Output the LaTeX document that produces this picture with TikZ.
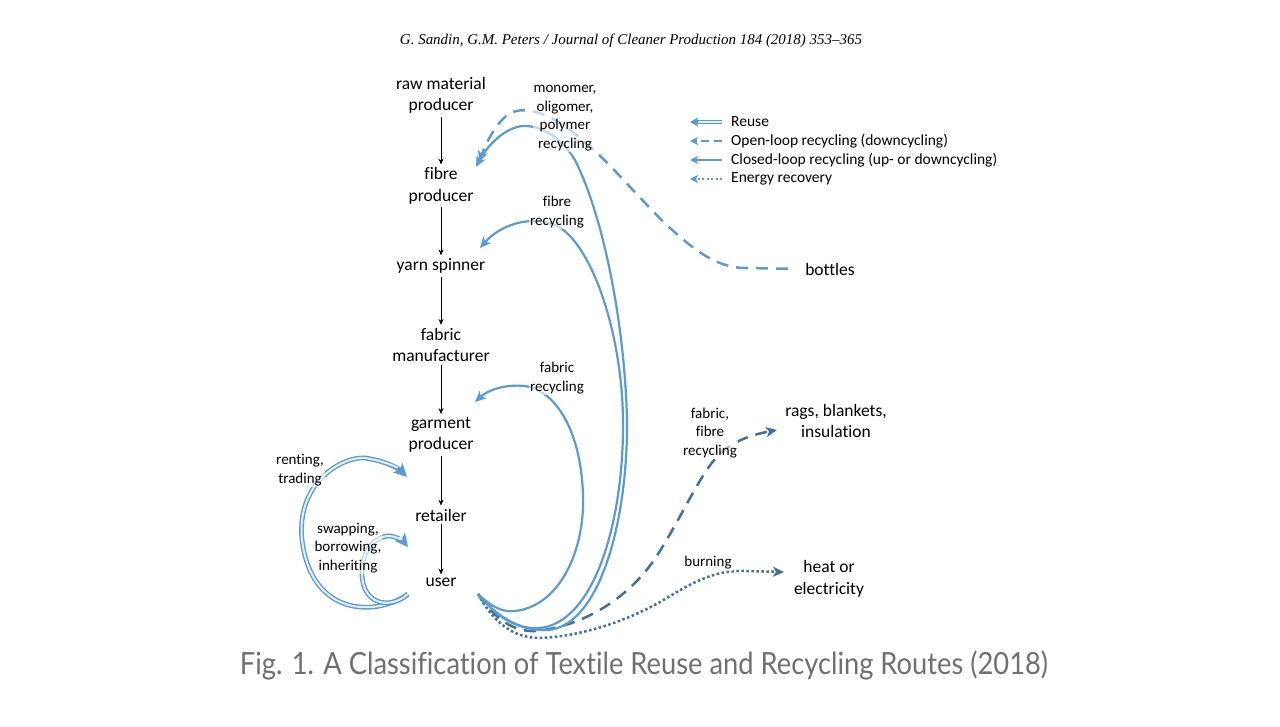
\documentclass[tikz,border=0pt]{standalone}
\usepackage{fontspec}
\setmainfont[Ligatures=NoCommon]{Carlito}
\newfontfamily\hdrfont{Liberation Serif}
\newfontfamily\capfont[Ligatures=NoCommon]{Lato}
\usetikzlibrary{arrows.meta}
\definecolor{lb}{HTML}{5B9BD5}
\definecolor{db}{HTML}{41719C}
\definecolor{pale}{HTML}{E6EFF8}
\definecolor{capgray}{HTML}{707070}
\begin{document}
\begin{tikzpicture}[x=1pt,y=-1pt,
  main/.style={font=\fontsize{17.5}{21.5}\selectfont, align=center, inner sep=1pt},
  small/.style={font=\fontsize{15}{18.7}\selectfont, align=center, inner sep=1pt, fill=white, fill opacity=0.6, text opacity=1},
  legtext/.style={font=\fontsize{15.5}{18}\selectfont, anchor=west, inner sep=0pt},
  flow/.style={-{Stealth[length=6pt,width=5pt]}, line width=0.8pt, shorten <=2pt, shorten >=2pt},
  closedloop/.style={draw=lb, line width=2.2pt, -{Stealth[length=11pt,width=10pt,inset=3pt]}},
  openloop/.style={draw=lb, line width=2.5pt, dash pattern=on 12pt off 8pt, -{Stealth[length=11pt,width=10pt,inset=3pt]}},
  openloopdark/.style={draw=db, line width=2.5pt, dash pattern=on 12pt off 8pt, -{Stealth[length=11pt,width=10pt,inset=3pt]}},
  energy/.style={draw=db, line width=2.5pt, dash pattern=on 2.5pt off 2.5pt, -{Stealth[length=11pt,width=10pt,inset=3pt]}},
  reuseout/.style={draw=lb, line width=4.8pt, -{Stealth[length=13pt,width=13pt,inset=3pt]}},
  reusein/.style={draw=pale, line width=2pt, shorten >=13pt},
]
\useasboundingbox[fill=white] (0,0) rectangle (1280,726);

% header and caption
\node (hdr) at (631,41) {\resizebox{462pt}{!}{\hdrfont\itshape G. Sandin, G.M. Peters / Journal of Cleaner Production 184 (2018) 353–365}};
\node[text=capgray] (cap) at (644,665) {\scalebox{1}[1.12]{\resizebox{808pt}{!}{\capfont Fig. 1. A Classification of Textile Reuse and Recycling Routes (2018)}}};

% chain
\node[main] (raw) at (441,95.5) {raw material\\producer};
\node[main] (fib) at (441,186) {fibre\\producer};
\node[main] (yarn) at (441,266) {yarn spinner};
\node[main] (fab) at (441,345) {fabric\\manufacturer};
\node[main] (gar) at (441,435) {garment\\producer};
\node[main] (ret) at (441,515) {retailer};
\node[main] (usr) at (441,582) {user};

\draw[flow] (raw) -- (fib);
\draw[flow] (fib) -- (yarn);
\draw[flow] (yarn) -- (fab);
\draw[flow] (fab) -- (gar);
\draw[flow] (gar) -- (ret);
\draw[flow] (ret) -- (usr);

% right hand targets
\node[main] (bot) at (830,269) {bottles};
\node[main] (rags) at (836,421) {rags, blankets,\\insulation};
\node[main] (heat) at (829,579) {heat or\\electricity};

% coordinates
\coordinate (uS) at (478,594);
\coordinate (uW) at (408,594);
\coordinate (tFib) at (476,167);
\coordinate (tFibD) at (479,162);
\coordinate (tYarn) at (480,248);
\coordinate (tGar) at (475,402);
\coordinate (tRent) at (407,477);
\coordinate (tSwap) at (408,547);
\coordinate (tRags) at (777,430);
\coordinate (tHeat) at (784,572);

% energy recovery
\draw[energy] (uS) .. controls (495,625) and (515,638) .. (540,638)
  .. controls (590,636) and (640,615) .. (670,596)
  .. controls (700,578) and (720,570) .. (745,571) -- (tHeat);
% open loop dark to rags
\draw[openloopdark] (uS) .. controls (495,620) and (515,632) .. (535,631)
  .. controls (580,627) and (620,602) .. (645,572)
  .. controls (670,542) and (695,482) .. (715,459)
  .. controls (730,442) and (750,435) .. (tRags);

% closed loops
\draw[closedloop] (uS) .. controls (495,615) and (520,632) .. (548,630)
  .. controls (600,626) and (628,520) .. (627,420)
  .. controls (625,330) and (605,220) .. (575,160)
  .. controls (560,135) and (535,122) .. (517,127)
  .. controls (500,132) and (486,148) .. (tFib);
\draw[closedloop] (uS) .. controls (495,615) and (515,630) .. (540,628)
  .. controls (595,622) and (624,520) .. (623,420)
  .. controls (622,330) and (590,240) .. (555,225)
  .. controls (530,215) and (500,225) .. (tYarn);
\draw[closedloop] (uS) .. controls (495,610) and (505,612) .. (515,611)
  .. controls (560,606) and (585,550) .. (583,495)
  .. controls (581,430) and (555,390) .. (525,386)
  .. controls (505,384) and (488,390) .. (tGar);

% open loop from bottles
\draw[openloop, shorten <=16pt] (bot.west) -- (745,268)
  .. controls (715,268) and (690,246) .. (670,228)
  .. controls (640,200) and (610,162) .. (580,138)
  .. controls (555,116) and (530,106) .. (513,112)
  .. controls (500,117) and (488,138) .. (tFibD);

% reuse
\draw[reuseout] (uW) .. controls (380,615) and (312,620) .. (302,540)
  .. controls (296,480) and (345,456) .. (365,458)
  .. controls (385,461) and (398,468) .. (tRent);
\draw[reusein] (uW) .. controls (380,615) and (312,620) .. (302,540)
  .. controls (296,480) and (345,456) .. (365,458)
  .. controls (385,461) and (398,468) .. (tRent);
\draw[reuseout] (uW) .. controls (390,610) and (362,605) .. (362,573)
  .. controls (362,545) and (380,535) .. (390,536)
  .. controls (398,537) and (404,542) .. (tSwap);
\draw[reusein] (uW) .. controls (390,610) and (362,605) .. (362,573)
  .. controls (362,545) and (380,535) .. (390,536)
  .. controls (398,537) and (404,542) .. (tSwap);

% small labels
\node[small] (lmono) at (565,118) {monomer,\\oligomer,\\polymer\\recycling};
\node[small] (lfib) at (557,212) {fibre\\recycling};
\node[small] (lfab) at (557,378) {fabric\\recycling};
\node[small] (lff) at (710,433) {fabric,\\fibre\\recycling};
\node[small] (lburn) at (708,563) {burning};
\node[small] (lrent) at (300,470) {renting,\\trading};
\node[small] (lswap) at (348,548) {swapping,\\borrowing,\\inheriting};

% legend
\coordinate (a1) at (722,122); \coordinate (b1) at (690,122);
\coordinate (a2) at (722,141); \coordinate (b2) at (690,141);
\coordinate (a3) at (722,160); \coordinate (b3) at (690,160);
\coordinate (a4) at (722,179); \coordinate (b4) at (690,179);
\draw[draw=lb, line width=3.6pt, -{Stealth[length=8pt,width=9pt,inset=2pt]}] (a1) -- (b1);
\draw[draw=pale, line width=1.2pt, shorten >=8pt] (a1) -- (b1);
\draw[draw=lb, line width=2.2pt, dash pattern=on 8pt off 5pt, -{Stealth[length=8pt,width=8pt,inset=2pt]}] (a2) -- (b2);
\draw[draw=lb, line width=2.2pt, -{Stealth[length=8pt,width=8pt,inset=2pt]}] (a3) -- (b3);
\draw[draw=lb, line width=2.2pt, dash pattern=on 2pt off 2.5pt, -{Stealth[length=8pt,width=8pt,inset=2pt]}] (a4) -- (b4);
\node[legtext] (l1) at (731,122) {Reuse};
\node[legtext] (l2) at (731,141) {Open-loop recycling (downcycling)};
\node[legtext] (l3) at (731,160) {Closed-loop recycling (up- or downcycling)};
\node[legtext] (l4) at (731,179) {Energy recovery};
\end{tikzpicture}
\end{document}
